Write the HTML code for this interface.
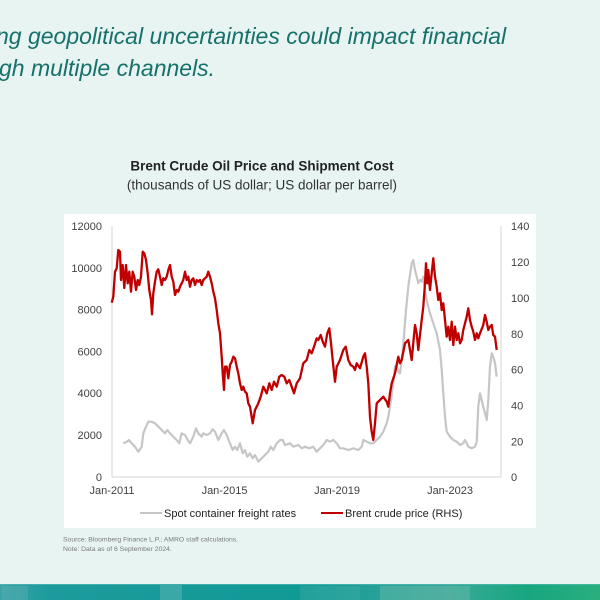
<!DOCTYPE html>
<html>
<head>
<meta charset="utf-8">
<style>
  html,body{margin:0;padding:0;background:#e7f4f2;}
  svg{display:block;}
  text{font-family:"Liberation Sans", Arial, sans-serif;}
</style>
</head>
<body>
<svg width="600" height="600" viewBox="0 0 600 600" xmlns="http://www.w3.org/2000/svg">
  <defs>
    <linearGradient id="band" x1="0" y1="0" x2="1" y2="0">
      <stop offset="0" stop-color="#3aa3a6"/>
      <stop offset="0.08" stop-color="#1d9b9c"/>
      <stop offset="0.5" stop-color="#109a96"/>
      <stop offset="0.75" stop-color="#3aa89a"/>
      <stop offset="0.88" stop-color="#17a77f"/>
      <stop offset="1" stop-color="#2aae7e"/>
    </linearGradient>
  </defs>
  <rect x="0" y="0" width="600" height="600" fill="#e7f4f2"/>

  <!-- heading -->
  <text x="-4" y="44" font-size="23" font-style="italic" fill="#17706b">ng geopolitical uncertainties could impact financial</text>
  <text x="-1" y="76" font-size="23" font-style="italic" fill="#17706b">gh multiple channels.</text>

  <!-- chart title -->
  <text x="262" y="170.5" font-size="13.5" font-weight="bold" fill="#222" text-anchor="middle">Brent Crude Oil Price and Shipment Cost</text>
  <text x="262" y="189.5" font-size="13.5" fill="#333" text-anchor="middle">(thousands of US dollar; US dollar per barrel)</text>

  <!-- white panel -->
  <rect x="64" y="214" width="472" height="314" fill="#ffffff"/>

  <!-- axes -->
  <line x1="112" y1="226" x2="112" y2="477" stroke="#d4d4d4" stroke-width="1"/>
  <line x1="501" y1="226" x2="501" y2="477" stroke="#d4d4d4" stroke-width="1"/>
  <line x1="112" y1="477" x2="501" y2="477" stroke="#d4d4d4" stroke-width="1"/>

  <!-- left ticks -->
  <g font-size="11" fill="#404040" text-anchor="end">
    <text x="102" y="230">12000</text>
    <text x="102" y="272">10000</text>
    <text x="102" y="313.5">8000</text>
    <text x="102" y="355.5">6000</text>
    <text x="102" y="397">4000</text>
    <text x="102" y="439">2000</text>
    <text x="102" y="481">0</text>
  </g>
  <!-- right ticks -->
  <g font-size="11" fill="#404040" text-anchor="start">
    <text x="511" y="230">140</text>
    <text x="511" y="266">120</text>
    <text x="511" y="302">100</text>
    <text x="511" y="338">80</text>
    <text x="511" y="373.5">60</text>
    <text x="511" y="409.5">40</text>
    <text x="511" y="445.5">20</text>
    <text x="511" y="481">0</text>
  </g>
  <!-- x ticks -->
  <g font-size="11" fill="#404040" text-anchor="middle">
    <text x="112" y="494">Jan-2011</text>
    <text x="224.5" y="494">Jan-2015</text>
    <text x="337" y="494">Jan-2019</text>
    <text x="450" y="494">Jan-2023</text>
  </g>

  <!-- gray series -->
  <polyline fill="none" stroke="#c6c6c6" stroke-width="2.2" stroke-linejoin="round" points="
123.3,443.3 126.7,441.7 129,440 131.7,443.3 135,446.7 138.3,451.7 141.7,446.7 143.3,433.3 146,426.7 148.3,421.7
151.7,421.7 155,423.3 158.3,426.7 161.7,430 165,433.3 167.3,430 170,433.3 173.3,436.7 176.7,440 179.3,443.3
181.7,433.3 185,435 187.7,440 190,443.3 193.3,436.7 196,428.3 198.3,433.3 201.7,436.7 203.3,433.3 206.7,435
210,433.3 212.7,429.3 215,431.7 218.3,440 221.7,433.3 224,430 226.7,435 230,443.3 232.7,450 235,446.7
237.3,450 240,443.3 242.7,453.3 245,450 247.3,456.7 250,453.3 252.7,458.3 255,455 258.3,461.7 261.7,458.3
265,455 268.3,451.7 270.7,446.7 273.3,450 276.7,443.3 280,440 282.7,440 285,445 290,443.3 293.3,446.7
298.3,445 301.7,448.3 305,446.7 309.3,448.3 313.3,446.7 316.7,451.7 320,448.3 323.3,445 326.7,440 330,441.7
333.3,440 336.7,443.3 340,448.3 343.3,448.3 348.3,450 353.3,448.3 358.3,450 361.7,446.7 363.3,440 366.7,441.7
370,443.3 373.3,443.3 376.7,440 380,436.7 383.3,431.7 386.7,423.3 388.3,416.7 390,406.7 393.3,383.3 395,366.7
396.7,365 398.3,371.7 400,373.3 401.7,360 403.3,343.3 406,310 408.3,286.7 411.7,263.3 413.3,260 415,270
416.7,276.7 418.3,283.3 420,280 421.7,281.7 423.3,276.7 425,290 426.7,300 430,313.3 433.3,323.3 436.7,333.3
440,350 441.7,370 443.3,393.3 445,416.7 446.7,431.7 450,436.7 453.3,440 456.7,441.7 460,445 463.3,443.3
465,440 466.7,443.3 468.3,446.7 471.7,448.3 475,446.7 476.7,441.7 478.3,406.7 480,393.3 483.3,406.7 486.7,420
488.3,400 490,366.7 491.7,353.3 493.3,356.7 495,363.3 496.7,376.7"/>

  <!-- red series -->
  <polyline fill="none" stroke="#c00000" stroke-width="2.3" stroke-linejoin="round" points="
111.7,302.7 113.3,296.7 115,271.7 116.7,268.3 118.3,250 120,251.7 121,280 122.7,265 124.3,288 126,265
127.7,283.3 129.3,271.7 131,291.7 132.7,271.7 134.3,276.7 136,290 137.7,280 139.3,285 141,276.7 142.7,251.7
144.3,253.3 146,260 147.7,273.3 149.3,290 151,300 152,314.3 153.3,293.3 155,281.7 156.7,271.7 158.3,269.3
160,276.7 161.7,285 163.3,278.3 165,280 166.7,276.7 168.3,270 170,265 171.7,276.7 173.3,281.7 175,295
176.7,290 178.3,291.7 180,286.7 181.7,283.3 183.3,280 185,271.7 186.7,280 188.3,276.7 190,286.7 191.7,280
193.3,278.3 195,285 196.7,280 198.3,281.7 200,280 201.7,285 203.3,280 205,278.3 206.7,276.7 208.3,271.7
210,276.7 211.7,283.3 213.3,291.7 215,298.3 216.7,310 218.3,323.3 220,333.3 221.7,356.7 222.7,373.3 224,390
225,366.7 226.7,366.7 228.3,378.3 230,365 231.7,361.7 233.3,356.7 235,358.3 236.7,366.7 238.3,373.3 240,383.3
241.7,390 243.3,386.7 245,391.7 246.7,393.3 248.3,403.3 250,406.7 252.7,423.3 255,410 256.7,406.7 258.3,403.3
260.7,396.7 263.3,386.7 266.7,393.3 269.3,383.3 271.7,390 274,381.7 276.7,386.7 279.3,376.7 281.7,375 284.3,376.7
286.7,383.3 289.3,380 291.7,386.7 294,393.3 296.7,383.3 300,378.3 303.3,363.3 306.7,360 309.3,350 311.7,353.3
314,346.7 316.7,338.3 318.3,340 320.7,335 322.7,341.7 325,346.7 327.3,333.3 329.3,328.3 331,343.3 332.7,360
335,381.7 336.7,366.7 340,360 343.3,350 345.7,346.7 348.3,360 350.7,365 353.3,366.7 355,370 356.7,363.3
360,368.3 363.3,356.7 365,353.3 366.7,366.7 368.3,383.3 370,416.7 371.7,431.7 373.3,440 375,423.3 376.7,403.3
380,400 383.3,396.7 386.7,401.7 388.3,406.7 390,393.3 391.7,383.3 395,373.3 398.3,356.7 400,363.3 401.7,360
405,343.3 408.3,340 410,350 411.7,360 415,325 416.7,333.3 418.3,350 421.7,320 423.3,306.7 425,283.3
426,263.3 427.3,283.3 428.3,270 430,290 431.7,273.3 433.3,258.3 435,276.7 436.7,286.7 438.3,300 440,293.3
441.7,310 443.3,303.3 445,320 446.7,336.7 448.3,326.7 450,340 451.7,321.7 453.3,345 455,326.7 456.7,340
458.3,333.3 460,343.3 461.7,340 463.3,330 465,323.3 466.7,316.7 468.3,308.3 470,320 471.7,326.7 473.3,331.7
475,340 476.7,333.3 478.3,338.3 480,333.3 483.3,325 485,315 486.7,321.7 488.3,330 490,326.7 491.7,325
493.3,335 495,336.7 496.7,350"/>

  <!-- legend -->
  <line x1="140" y1="513" x2="162" y2="513" stroke="#c6c6c6" stroke-width="2"/>
  <text x="164" y="517" font-size="11" fill="#222">Spot container freight rates</text>
  <line x1="321" y1="513" x2="343" y2="513" stroke="#c00000" stroke-width="2"/>
  <text x="345" y="517" font-size="11" fill="#222">Brent crude price (RHS)</text>

  <!-- source -->
  <text x="63" y="541.5" font-size="6.8" fill="#7a7a7a">Source: Bloomberg Finance L.P.; AMRO staff calculations.</text>
  <text x="63" y="551" font-size="6.8" fill="#7a7a7a">Note: Data as of 6 September 2024.</text>

  <!-- bottom band -->
  <rect x="0" y="584" width="600" height="16" fill="url(#band)"/>
  <rect x="0" y="584" width="600" height="1" fill="#5bbcb8" opacity="0.6"/>
  <rect x="2" y="586" width="26" height="14" fill="#5aaeb3" opacity="0.45"/>
  <rect x="160" y="585" width="22" height="15" fill="#6fbcbc" opacity="0.4"/>
  <rect x="300" y="586" width="60" height="14" fill="#4fb0a8" opacity="0.3"/>
  <rect x="380" y="586" width="90" height="14" fill="#7cc1b0" opacity="0.35"/>
</svg>
</body>
</html>
